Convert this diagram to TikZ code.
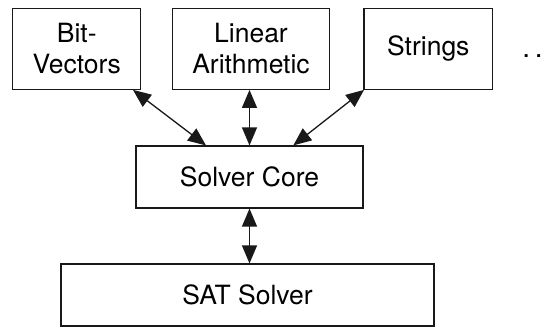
\documentclass[tikz,border=0pt]{standalone}
\usepackage{fontspec}
\setmainfont{TeX Gyre Heros}
\usetikzlibrary{arrows.meta}
\definecolor{ink}{RGB}{25,25,25}
\tikzset{
  box/.style={draw=ink, line width=1.2pt, fill=white, align=center, inner sep=0pt,
    font=\fontsize{26.5pt}{31pt}\selectfont},
  link/.style={draw=ink, line width=1.3pt,
    {Triangle[length=18pt,width=15pt]}-{Triangle[length=18pt,width=15pt]}}
}
\begin{document}
\begin{tikzpicture}[x=1pt,y=-1pt]
\useasboundingbox (0,0) rectangle (544,327);
\node[box, minimum width=128pt, minimum height=81pt] (bv) at (76.7,48.8) {Bit-\\Vectors};
\node[box, minimum width=156.6pt, minimum height=81pt] (la) at (251,48.8) {Linear\\Arithmetic};
\node[box, minimum width=128.7pt, minimum height=81pt] (st) at (428.3,48.8) {Strings};
\node[anchor=base, inner sep=0pt, font=\fontsize{28pt}{31pt}\selectfont] (more) at (532.5,57.5) {.\hspace{4.6pt}.};
\node[box, minimum width=227pt, minimum height=62pt] (core) at (249.5,177) {Solver Core};
\node[box, minimum width=373pt, minimum height=62pt] (sat) at (247.5,295) {SAT Solver};
\draw[link] ([xshift=-43.5pt]core.north) -- ([xshift=56.3pt]bv.south);
\draw[link] (core.north) -- (core.north |- la.south);
\draw[link] ([xshift=43.8pt]core.north) -- ([xshift=0.7pt]st.south west);
\draw[link] (core.south) -- (core.south |- sat.north);
\end{tikzpicture}
\end{document}
